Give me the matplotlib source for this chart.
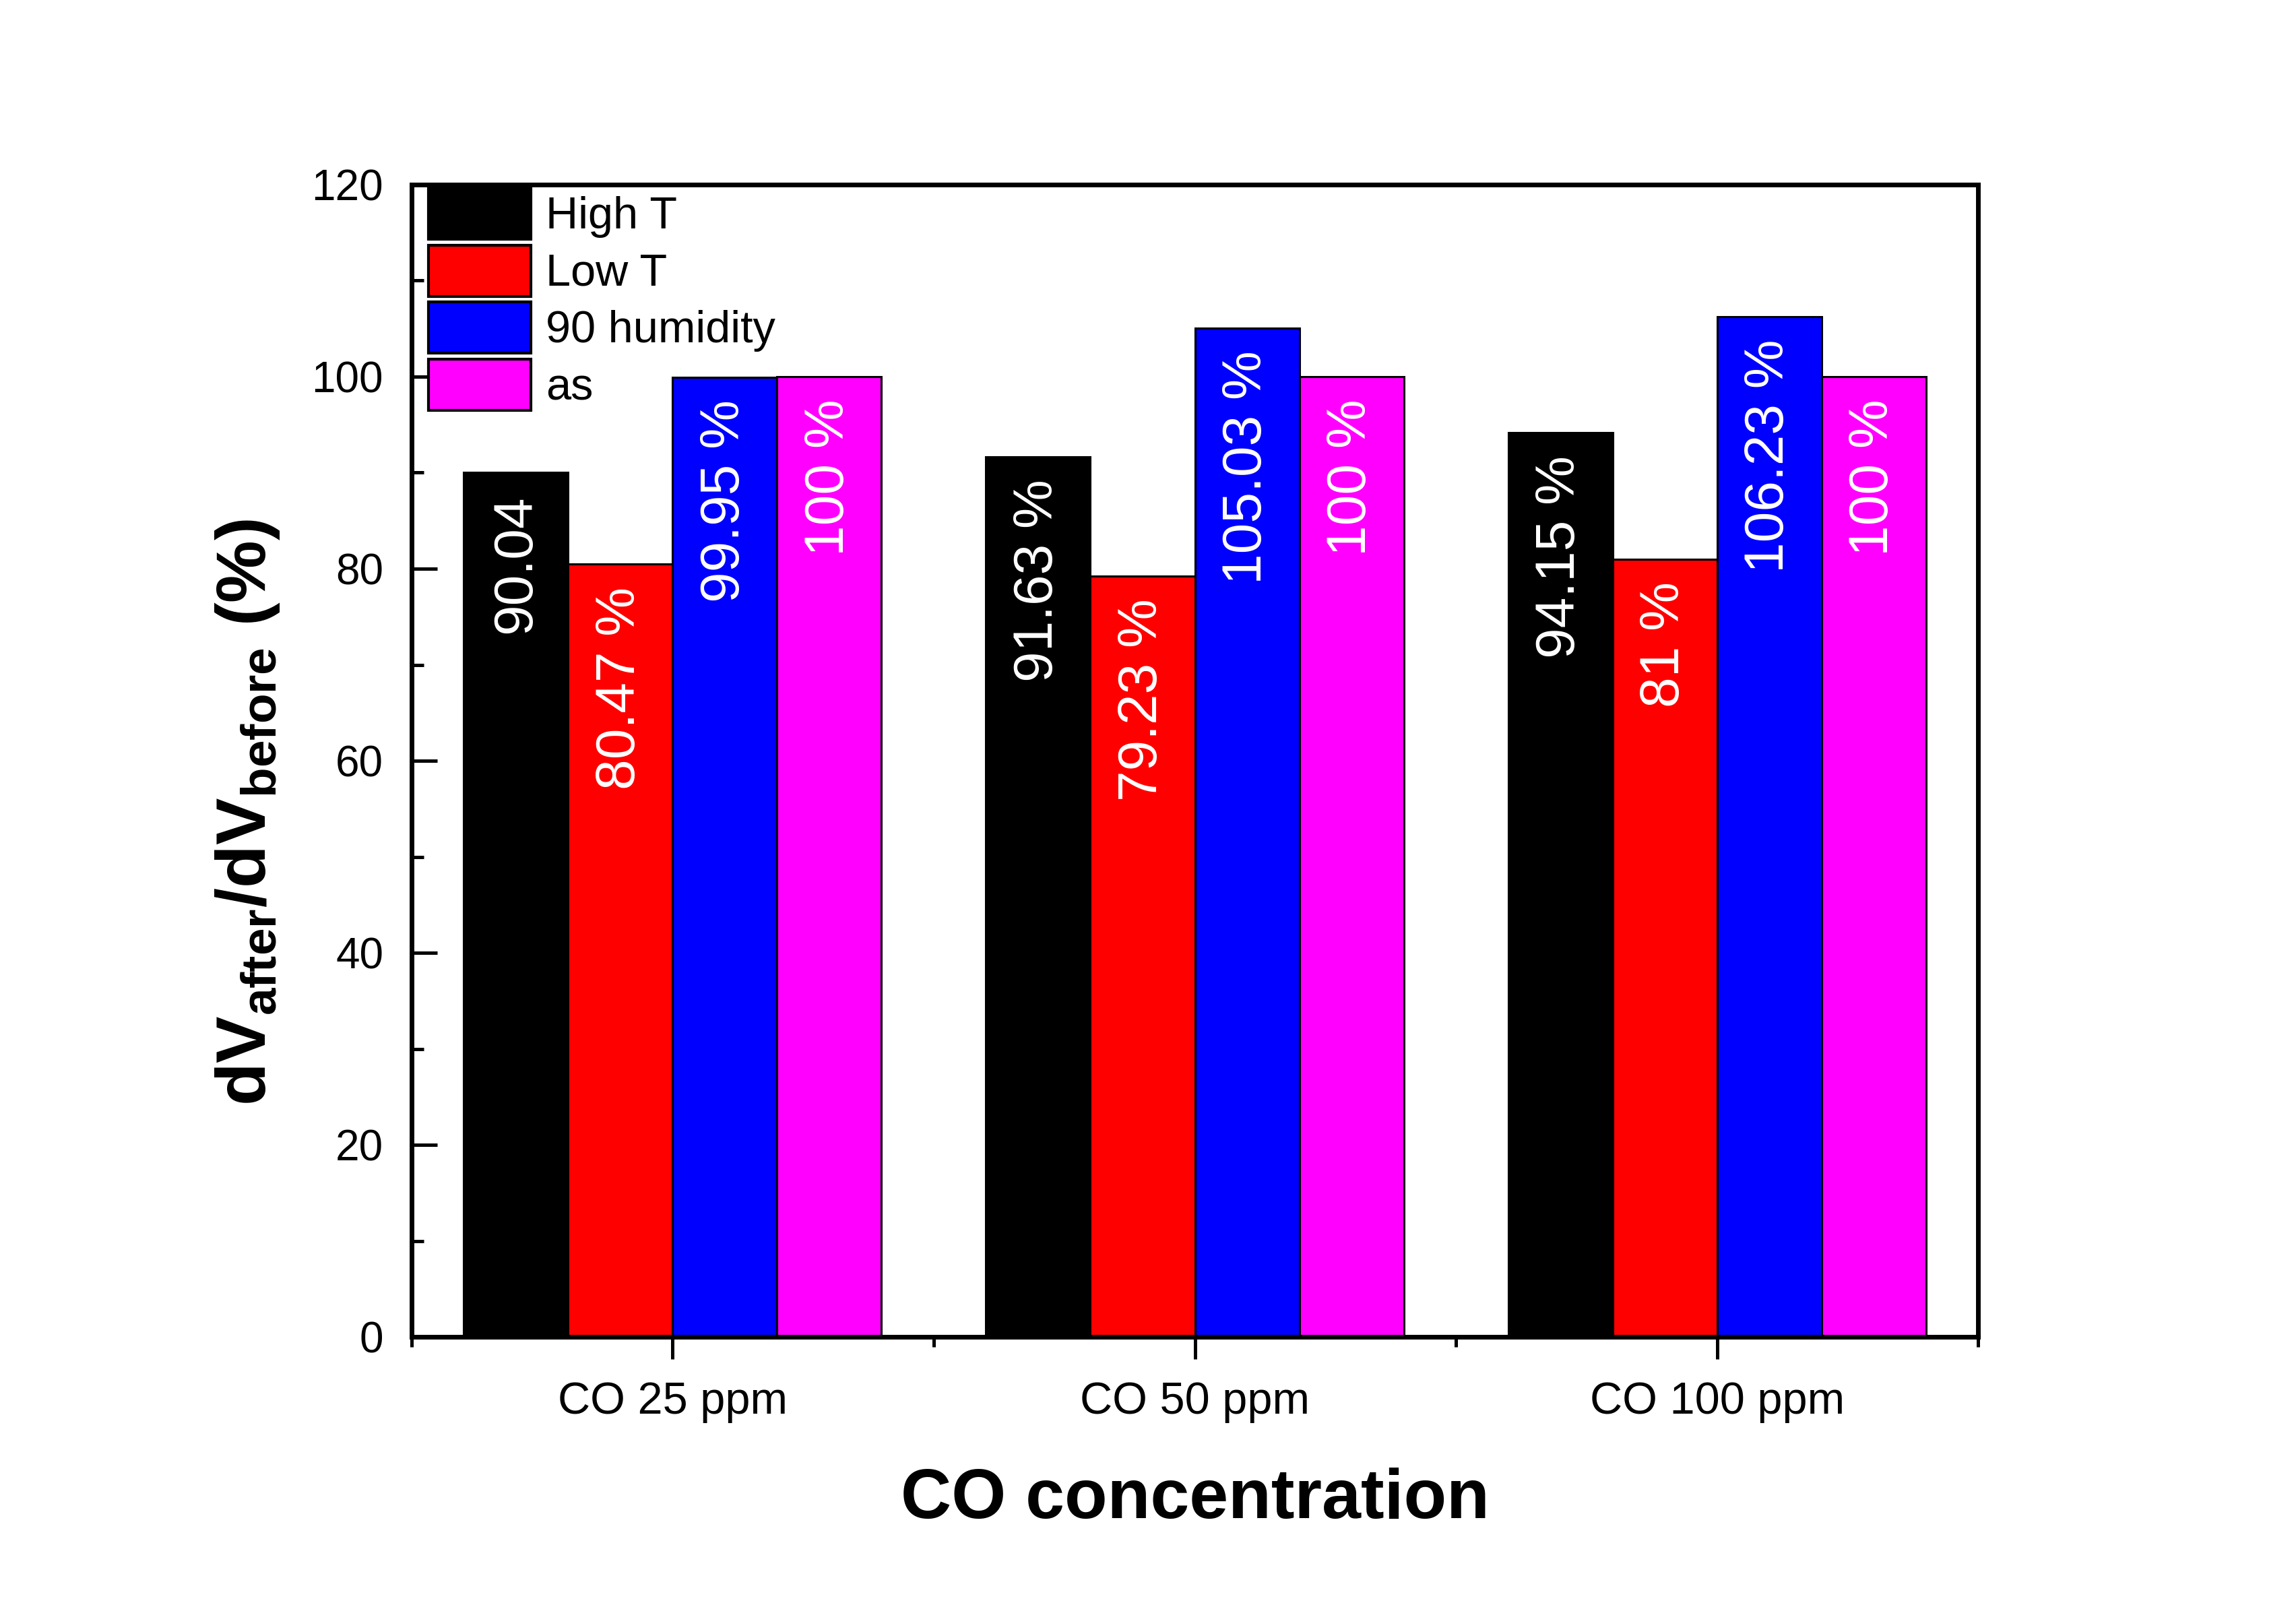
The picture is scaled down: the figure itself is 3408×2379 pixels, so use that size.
import matplotlib
matplotlib.use('Agg')
import numpy as np
import matplotlib.pyplot as plt
from matplotlib.ticker import FixedLocator, MultipleLocator

# data
groups = ['CO 25 ppm', 'CO 50 ppm', 'CO 100 ppm']
series_names = ['High T', 'Low T', '90 humidity', 'as']
high_t = [90.04, 91.63, 94.15]
low_t = [80.47, 79.23, 81.0]
humidity_90 = [99.95, 105.03, 106.23]
as_made = [100, 100, 100]
high_t_labels = ['90.04', '91.63 %', '94.15 %']
low_t_labels = ['80.47 %', '79.23 %', '81 %']
humidity_labels = ['99.95 %', '105.03 %', '106.23 %']
as_labels = ['100 %', '100 %', '100 %']


def main():
    plt.rcParams['font.family'] = ['Liberation Sans', 'DejaVu Sans']
    plt.rcParams['mathtext.fontset'] = 'custom'
    plt.rcParams['mathtext.rm'] = 'Liberation Sans'
    plt.rcParams['mathtext.bf'] = 'Liberation Sans:bold'
    plt.rcParams['mathtext.it'] = 'Liberation Sans:italic'

    fig = plt.figure(figsize=(34.08, 23.79), dpi=100, facecolor='white')
    ax = fig.add_axes([0.1792, 0.1659, 0.8616 - 0.1792, 0.8849 - 0.1659])

    values = [high_t, low_t, humidity_90, as_made]
    labels = [high_t_labels, low_t_labels, humidity_labels, as_labels]
    colors = ['#000000', '#FF0000', '#0000FF', '#FF00FF']

    x = np.arange(1, len(groups) + 1)
    width = 0.2
    for i, (vals, labs, col, name) in enumerate(zip(values, labels, colors, series_names)):
        xpos = x + (i - 1.5) * width
        ax.bar(xpos, vals, width=width, color=col, edgecolor='black',
               linewidth=2.2, label=name, zorder=2)
        for xp, v, lab in zip(xpos, vals, labs):
            ax.annotate(lab, xy=(xp, v), xytext=(0, -24), textcoords='offset points',
                        rotation=90, ha='center', va='top', color='white',
                        fontsize=59, zorder=3)

    ax.set_xlim(0.5, 3.5)
    ax.set_ylim(0, 120)
    ax.set_xticks(x)
    ax.set_xticklabels(groups)
    ax.xaxis.set_minor_locator(FixedLocator([0.5, 1.5, 2.5, 3.5]))
    ax.yaxis.set_major_locator(MultipleLocator(20))
    ax.yaxis.set_minor_locator(MultipleLocator(10))

    for sp in ax.spines.values():
        sp.set_linewidth(5)

    ax.tick_params(axis='x', which='major', direction='out', length=24, width=3.6,
                   labelsize=48, pad=23)
    ax.tick_params(axis='x', which='minor', direction='out', length=11, width=3.6)
    ax.tick_params(axis='y', which='major', direction='in', length=27, width=3.6,
                   labelsize=46, pad=30)
    ax.tick_params(axis='y', which='minor', direction='in', length=13, width=3.6)

    ax.set_xlabel('CO concentration', fontsize=75, fontweight='bold', labelpad=48)
    ax.set_ylabel(r'$\mathbf{dV_{after}/dV_{before}\ (\%)}$', fontsize=75,
                  fontweight='bold')
    ax.yaxis.set_label_coords(-0.083, 0.455)

    leg = ax.legend(loc='upper left', bbox_to_anchor=(0.0095, 0.999), frameon=False,
                    fontsize=48, handlelength=2.28, handleheight=1.377,
                    labelspacing=0.13, handletextpad=0.33, borderpad=0.05,
                    borderaxespad=0)
    for h in leg.legend_handles:
        h.set_linewidth(3)

    fig.savefig('out.png', dpi=100, facecolor='white')
    plt.close(fig)


if __name__ == '__main__':
    main()
